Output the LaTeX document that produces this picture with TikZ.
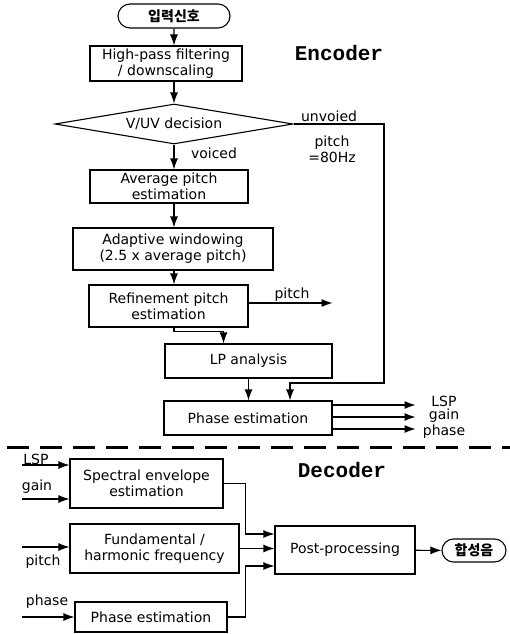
\documentclass[tikz,border=0pt]{standalone}
\usepackage{fontspec}
\setmainfont{DejaVu Sans}
\newfontfamily\krfont{Noto Sans CJK KR}
\newfontfamily\ttlfont{Liberation Mono}
\usetikzlibrary{arrows.meta,shapes.geometric,shapes.misc}

\tikzset{
  blk/.style={draw, line width=1.1pt, align=center, inner sep=2pt},
  term/.style={draw, rounded rectangle, line width=1.1pt, inner sep=2pt,
    font=\fontsize{14}{16}\selectfont\krfont\bfseries},
  lbl/.style={inner sep=0pt, align=center},
  ttl/.style={inner sep=0pt, font=\fontsize{21}{24}\selectfont\ttlfont\bfseries},
  flow/.style={line width=1.1pt, -{Latex[length=11pt,width=8pt]}},
}

\begin{document}
\begin{tikzpicture}[x=1pt, y=-1pt, font=\fontsize{14}{16}\selectfont]
\useasboundingbox (0,0) rectangle (510,634);

% Encoder
\node[term, minimum width=116, minimum height=24] (start) at (174,16) {입력신호};
\node[blk, minimum width=152, minimum height=35] (hpf) at (166,63.5) {High-pass filtering\\/ downscaling};
\node[draw, diamond, aspect=6, line width=1.1pt, inner sep=0pt,
  minimum width=238, minimum height=40] (dec) at (174,124) {V/UV decision};
\node[blk, minimum width=158, minimum height=33] (avg) at (169,186.5) {Average pitch\\estimation};
\node[blk, minimum width=200, minimum height=42] (win) at (173,249) {Adaptive windowing\\(2.5 x average pitch)};
\node[blk, minimum width=159, minimum height=42] (ref) at (168.5,306) {Refinement pitch\\estimation};
\node[blk, minimum width=167, minimum height=34] (lp) at (248.5,361) {LP analysis};
\node[blk, minimum width=168, minimum height=34] (ph) at (248,418) {Phase estimation};

\node[ttl] (enc) at (339,53) {Encoder};
\node[lbl] (voiced) at (214,153) {voiced};
\node[lbl] (unv) at (329,116) {unvoied};
\node[lbl] (p80) at (332,149) {pitch\\=80Hz};
\node[lbl] (rpitch) at (292,295) {pitch};

\draw[flow] (start) -- (hpf.north -| start);
\draw[flow] (hpf.south -| dec) -- (dec.north);
\draw[flow] (dec.south) -- (avg.north -| dec);
\draw[flow] (avg.south -| dec) -- (win.north -| dec);
\draw[flow] (win.south -| dec) -- (ref.north -| dec);
\draw[flow] (ref.south -| dec) -- ++(0,4) -| ([xshift=-25]lp.north);
\draw[flow] ([yshift=3]ref.east) -- ++(84,0);
\coordinate (uvcorner) at (384,383);
\draw[flow] (dec.east) -| (uvcorner) -| ([xshift=42]ph.north);
\draw[flow] (lp.south) -- (lp.south |- ph.north);

% outputs
\foreach \dy in {13,1,-11}
  \draw[flow] ([yshift=\dy]ph.east) -- ++(83,0);
\node[lbl] (olsp) at (444,401) {LSP};
\node[lbl] (ogain) at (444,416) {gain};
\node[lbl] (ophase) at (444,432) {phase};

\draw[line width=3pt, dash pattern=on 22pt off 11pt] (7,447) -- (510,447);

% Decoder
\node[ttl] (decd) at (342,470) {Decoder};
\node[blk, minimum width=153, minimum height=49] (spec) at (146.5,483.5) {Spectral envelope\\estimation};
\node[blk, minimum width=169, minimum height=49] (fund) at (154.5,548.5) {Fundamental /\\harmonic frequency};
\node[blk, minimum width=152, minimum height=30] (dph) at (151,617) {Phase estimation};
\node[blk, minimum width=140, minimum height=48] (post) at (345,550) {Post-processing};
\node[term, minimum width=68, minimum height=23] (out) at (474,550.5) {합성음};

\coordinate (lspin) at (22,465);
\coordinate (gainin) at (22,499);
\coordinate (pitchin) at (22,547);
\coordinate (phasein) at (22,617);
\draw[flow] (lspin) -- (lspin -| spec.west);
\draw[flow] (gainin) -- (gainin -| spec.west);
\draw[flow] (pitchin) -- (pitchin -| fund.west);
\draw[flow] (phasein) -- (phasein -| dph.west);
\node[lbl] (ilsp) at (36,459) {LSP};
\node[lbl] (igain) at (37,487) {gain};
\node[lbl] (ipitch) at (43,562) {pitch};
\node[lbl] (iphase) at (47,602) {phase};

\draw[flow] (spec.east) -- ++(22,0) |- ([yshift=16]post.west);
\draw[flow] (fund.east) -- (fund.east -| post.west);
\draw[flow] (dph.east) -- ++(18,0) |- ([yshift=-16]post.west);
\draw[flow] (post) -- (out);
\end{tikzpicture}
\end{document}
